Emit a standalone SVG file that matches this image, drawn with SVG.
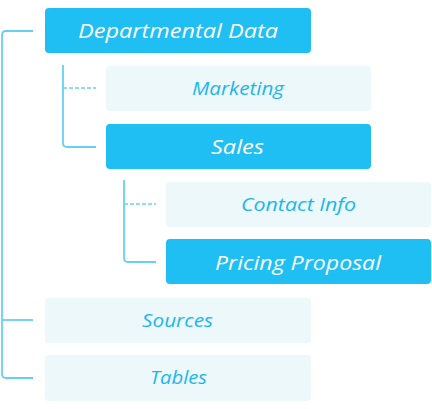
<svg xmlns="http://www.w3.org/2000/svg" width="432" height="409" viewBox="0 0 432 409">
<style>
.dark{fill:#1FBEF3;}
.light{fill:#ECF8FA;}
.tw{fill:#FFFFFF;font-family:"Open Sans",Lato,sans-serif;font-style:italic;font-weight:500;font-size:20.5px;}
.tb{fill:#1DB6EE;font-family:"Open Sans",Lato,sans-serif;font-style:italic;font-weight:500;font-size:18.5px;}
.ln{fill:none;stroke:#67CFF5;stroke-width:1.8;}
.dash{fill:none;stroke:#67CFF5;stroke-width:1.6;stroke-dasharray:4 2;}
</style>
<g id="connectors">
<path class="ln" d="M33 31 H6 Q2 31 2 35 V374 Q2 378 6 378 H33"/>
<path class="ln" d="M2 320 H33"/>
<path class="ln" d="M63 65 V143 Q63 147 67 147 H96"/>
<path class="dash" d="M63 88 H96"/>
<path class="ln" d="M124 180 V258 Q124 262 128 262 H156"/>
<path class="dash" d="M124 204 H156"/>
</g>
<g id="departmental-data">
<rect class="dark" x="45" y="8" width="266" height="45" rx="4"/>
<text class="tw" x="78" y="38" textLength="200" lengthAdjust="spacingAndGlyphs">Departmental Data</text>
</g>
<g id="marketing">
<rect class="light" x="106" y="66" width="265" height="45" rx="4"/>
<text class="tb" x="192" y="95" textLength="92" lengthAdjust="spacingAndGlyphs">Marketing</text>
</g>
<g id="sales">
<rect class="dark" x="106" y="124" width="265" height="45" rx="4"/>
<text class="tw" x="211" y="153.5" textLength="53" lengthAdjust="spacingAndGlyphs">Sales</text>
</g>
<g id="contact-info">
<rect class="light" x="166" y="182" width="265" height="45" rx="4"/>
<text class="tb" x="241" y="210.5" textLength="115" lengthAdjust="spacingAndGlyphs">Contact Info</text>
</g>
<g id="pricing-proposal">
<rect class="dark" x="166" y="239" width="265" height="45" rx="4"/>
<text class="tw" x="215" y="269.5" textLength="166" lengthAdjust="spacingAndGlyphs">Pricing Proposal</text>
</g>
<g id="sources">
<rect class="light" x="45" y="298" width="266" height="45" rx="4"/>
<text class="tb" x="142" y="326.5" textLength="71" lengthAdjust="spacingAndGlyphs">Sources</text>
</g>
<g id="tables">
<rect class="light" x="45" y="355" width="266" height="46" rx="4"/>
<text class="tb" x="150" y="383.5" textLength="57" lengthAdjust="spacingAndGlyphs">Tables</text>
</g>
</svg>
